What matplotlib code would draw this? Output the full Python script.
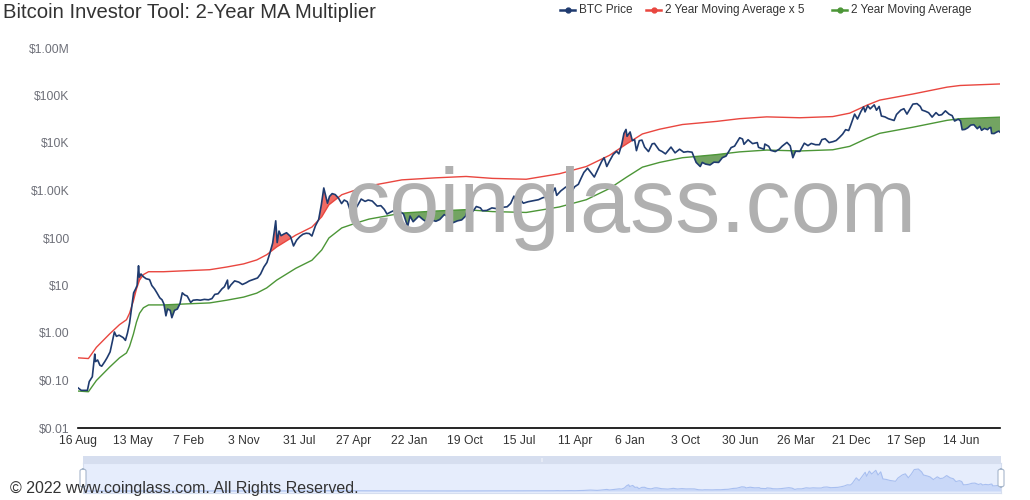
import numpy as np
import pandas as pd
import matplotlib
matplotlib.use('Agg')
from matplotlib import pyplot as plt
from matplotlib.lines import Line2D
from matplotlib.patches import Rectangle, FancyBboxPatch
import matplotlib.dates as mdates

plt.rcParams['font.family'] = ['Liberation Sans', 'DejaVu Sans']

# BTC price
price_dates = [
    '2010-08-16', '2010-09-01', '2010-09-15', '2010-10-01', '2010-10-10', '2010-10-25', '2010-11-06', '2010-11-10',
    '2010-11-20', '2010-12-01', '2010-12-10', '2010-12-25', '2011-01-05', '2011-01-20', '2011-02-01', '2011-02-10',
    '2011-02-20', '2011-03-05', '2011-03-25', '2011-04-05', '2011-04-15', '2011-04-25', '2011-05-05', '2011-05-15',
    '2011-05-25', '2011-06-01', '2011-06-08', '2011-06-12', '2011-06-20', '2011-07-01', '2011-07-15', '2011-08-01',
    '2011-08-12', '2011-08-25', '2011-09-06', '2011-09-20', '2011-10-01', '2011-10-10', '2011-10-20', '2011-10-28',
    '2011-11-10', '2011-11-18', '2011-12-01', '2011-12-15', '2011-12-28', '2012-01-08', '2012-01-20', '2012-02-01',
    '2012-02-18', '2012-03-01', '2012-03-20', '2012-04-05', '2012-04-25', '2012-05-15', '2012-06-01', '2012-06-15',
    '2012-07-01', '2012-07-20', '2012-08-01', '2012-08-16', '2012-08-20', '2012-09-01', '2012-09-20', '2012-10-10',
    '2012-10-28', '2012-11-15', '2012-12-01', '2012-12-20', '2013-01-10', '2013-01-25', '2013-02-10', '2013-02-25',
    '2013-03-10', '2013-03-25', '2013-04-09', '2013-04-16', '2013-04-25', '2013-05-05', '2013-05-20', '2013-06-01',
    '2013-06-20', '2013-07-05', '2013-07-20', '2013-08-05', '2013-08-20', '2013-09-05', '2013-09-20', '2013-10-03',
    '2013-10-20', '2013-11-05', '2013-11-18', '2013-11-30', '2013-12-06', '2013-12-18', '2013-12-28', '2014-01-10',
    '2014-01-25', '2014-02-10', '2014-02-25', '2014-03-10', '2014-03-25', '2014-04-10', '2014-04-25', '2014-05-10',
    '2014-06-01', '2014-06-20', '2014-07-05', '2014-07-25', '2014-08-18', '2014-09-05', '2014-09-22', '2014-10-05',
    '2014-10-25', '2014-11-15', '2014-12-01', '2014-12-25', '2015-01-14', '2015-01-26', '2015-02-10', '2015-03-10',
    '2015-03-30', '2015-04-15', '2015-05-10', '2015-06-01', '2015-06-20', '2015-07-12', '2015-08-01', '2015-08-24',
    '2015-09-15', '2015-10-05', '2015-10-25', '2015-11-04', '2015-11-12', '2015-12-01', '2015-12-16', '2016-01-05',
    '2016-01-15', '2016-02-05', '2016-03-01', '2016-03-25', '2016-04-20', '2016-05-15', '2016-06-01', '2016-06-17',
    '2016-06-25', '2016-07-15', '2016-08-02', '2016-08-25', '2016-09-20', '2016-10-15', '2016-11-05', '2016-11-25',
    '2016-12-15', '2017-01-04', '2017-01-12', '2017-02-01', '2017-02-25', '2017-03-10', '2017-03-25', '2017-04-10',
    '2017-04-28', '2017-05-10', '2017-05-25', '2017-06-12', '2017-06-25', '2017-07-15', '2017-08-01', '2017-08-20',
    '2017-09-01', '2017-09-14', '2017-09-28', '2017-10-15', '2017-11-01', '2017-11-12', '2017-11-26', '2017-12-07',
    '2017-12-17', '2017-12-22', '2018-01-06', '2018-01-17', '2018-01-28', '2018-02-06', '2018-02-20', '2018-03-05',
    '2018-03-18', '2018-04-06', '2018-04-24', '2018-05-05', '2018-05-28', '2018-06-12', '2018-06-28', '2018-07-25',
    '2018-08-14', '2018-09-05', '2018-09-25', '2018-10-15', '2018-11-05', '2018-11-25', '2018-12-15', '2018-12-25',
    '2019-01-10', '2019-02-01', '2019-02-20', '2019-03-15', '2019-04-02', '2019-04-20', '2019-05-15', '2019-06-01',
    '2019-06-26', '2019-07-10', '2019-07-17', '2019-08-06', '2019-08-28', '2019-09-20', '2019-09-26', '2019-10-23',
    '2019-10-27', '2019-11-15', '2019-11-25', '2019-12-17', '2020-01-05', '2020-01-20', '2020-02-12', '2020-02-28',
    '2020-03-12', '2020-03-25', '2020-04-15', '2020-05-07', '2020-05-25', '2020-06-10', '2020-07-01', '2020-07-20',
    '2020-08-01', '2020-08-17', '2020-09-05', '2020-09-25', '2020-10-10', '2020-10-25', '2020-11-10', '2020-11-25',
    '2020-12-10', '2020-12-20', '2021-01-08', '2021-01-22', '2021-02-08', '2021-02-21', '2021-02-28', '2021-03-13',
    '2021-03-25', '2021-04-14', '2021-04-25', '2021-05-08', '2021-05-19', '2021-06-05', '2021-06-22', '2021-07-20',
    '2021-08-01', '2021-08-22', '2021-09-06', '2021-09-21', '2021-10-05', '2021-10-20', '2021-11-09', '2021-11-25',
    '2021-12-04', '2021-12-20', '2022-01-05', '2022-01-22', '2022-02-10', '2022-02-24', '2022-03-10', '2022-03-28',
    '2022-04-15', '2022-04-30', '2022-05-12', '2022-05-30', '2022-06-10', '2022-06-18', '2022-07-01', '2022-07-15',
    '2022-07-30', '2022-08-14', '2022-08-31', '2022-09-12', '2022-09-21', '2022-10-05', '2022-10-20', '2022-10-29',
    '2022-11-05', '2022-11-09', '2022-11-21', '2022-12-05', '2022-12-14', '2022-12-20',
]
price_values = [
    0.07, 0.062, 0.062, 0.062, 0.095, 0.12, 0.36, 0.25,
    0.27, 0.21, 0.20, 0.25, 0.30, 0.40, 0.70, 1.05,
    0.85, 0.90, 0.80, 0.70, 1.00, 1.60, 3.40, 7.0,
    8.5, 10.0, 26.0, 15.0, 17.5, 15.4, 13.9, 13.3,
    10.0, 8.5, 7.0, 5.5, 5.0, 4.1, 2.3, 3.2,
    3.0, 2.1, 3.0, 3.2, 4.2, 7.0, 6.3, 6.0,
    4.4, 4.9, 5.0, 4.9, 5.1, 5.0, 5.3, 6.5,
    6.7, 8.5, 9.4, 13.0, 8.5, 10.2, 12.5, 11.8,
    10.5, 11.4, 12.5, 13.4, 14.4, 17.5, 24.5, 30.5,
    46.0, 78.0, 230.0, 80.0, 140.0, 112.0, 122.0, 129.0,
    108.0, 68.0, 90.0, 107.0, 120.0, 126.0, 124.0, 110.0,
    180.0, 245.0, 500.0, 1130.0, 890.0, 540.0, 750.0, 860.0,
    820.0, 690.0, 530.0, 630.0, 580.0, 360.0, 500.0, 450.0,
    660.0, 590.0, 630.0, 600.0, 470.0, 480.0, 400.0, 320.0,
    355.0, 390.0, 375.0, 320.0, 175.0, 290.0, 220.0, 290.0,
    245.0, 220.0, 240.0, 225.0, 245.0, 310.0, 280.0, 210.0,
    230.0, 240.0, 290.0, 410.0, 310.0, 370.0, 460.0, 430.0,
    375.0, 380.0, 430.0, 415.0, 440.0, 455.0, 535.0, 760.0,
    620.0, 665.0, 540.0, 580.0, 610.0, 640.0, 705.0, 740.0,
    780.0, 1130.0, 790.0, 980.0, 1180.0, 1200.0, 930.0, 1200.0,
    1350.0, 1760.0, 2400.0, 2950.0, 2500.0, 1920.0, 2750.0, 4100.0,
    4900.0, 3200.0, 4200.0, 5700.0, 6700.0, 5900.0, 9300.0, 16000.0,
    19300.0, 13800.0, 17100.0, 11200.0, 11800.0, 6900.0, 11200.0, 11500.0,
    8200.0, 6600.0, 9600.0, 9800.0, 7100.0, 6600.0, 5900.0, 8200.0,
    6200.0, 7400.0, 6400.0, 6600.0, 6400.0, 3900.0, 3200.0, 3900.0,
    3600.0, 3450.0, 3950.0, 3900.0, 4900.0, 5300.0, 8000.0, 8600.0,
    12900.0, 12100.0, 9400.0, 11700.0, 9700.0, 10200.0, 8100.0, 7400.0,
    9500.0, 8500.0, 7000.0, 6600.0, 7400.0, 8600.0, 10300.0, 8700.0,
    4900.0, 6700.0, 6650.0, 9900.0, 8800.0, 9800.0, 9200.0, 9200.0,
    11800.0, 12300.0, 10200.0, 10700.0, 11300.0, 13000.0, 15300.0, 19100.0,
    18300.0, 23800.0, 40500.0, 32000.0, 46200.0, 57500.0, 45200.0, 61200.0,
    52300.0, 63500.0, 49000.0, 58800.0, 37000.0, 35500.0, 32500.0, 29800.0,
    39900.0, 49300.0, 52700.0, 40600.0, 51500.0, 65900.0, 67500.0, 58900.0,
    49200.0, 46700.0, 43400.0, 35100.0, 43600.0, 38300.0, 39400.0, 47500.0,
    40400.0, 37700.0, 29000.0, 31700.0, 29100.0, 19000.0, 19300.0, 20800.0,
    23800.0, 24300.0, 20000.0, 22400.0, 18500.0, 20300.0, 19100.0, 20800.0,
    21300.0, 15900.0, 15800.0, 17100.0, 17800.0, 16900.0,
]

# 2 year moving average
ma_dates = [
    '2010-08-16', '2010-10-06', '2010-11-14', '2011-01-17', '2011-03-07', '2011-04-10', '2011-04-25', '2011-05-14',
    '2011-05-29', '2011-06-13', '2011-07-02', '2011-07-27', '2011-10-08', '2012-01-29', '2012-05-21', '2012-08-12',
    '2012-11-03', '2013-01-06', '2013-02-24', '2013-04-14', '2013-07-16', '2013-10-03', '2013-11-20', '2013-12-25',
    '2014-02-26', '2014-05-06', '2014-07-09', '2014-09-30', '2014-12-17', '2015-06-02', '2015-10-27', '2016-03-03',
    '2016-08-16', '2017-01-25', '2017-06-06', '2017-09-27', '2017-12-19', '2018-03-07', '2018-05-30', '2018-09-19',
    '2019-03-05', '2019-06-25', '2019-11-05', '2020-04-15', '2020-09-23', '2020-12-15', '2021-03-09', '2021-05-11',
    '2021-10-20', '2022-04-05', '2022-06-08', '2022-12-20',
]
ma_values = [
    0.060, 0.058, 0.10, 0.19, 0.30, 0.38, 0.52, 0.95,
    1.7, 2.6, 3.4, 3.9, 3.9, 4.1, 4.3, 4.9,
    5.7, 6.9, 8.9, 13, 23, 34, 56, 100,
    163, 206, 250, 290, 335, 370, 395, 360,
    345, 450, 640, 1100, 1900, 3100, 3900, 4900,
    5700, 6500, 7100, 6800, 7200, 8500, 12500, 16000,
    21500, 30000, 32500, 35000,
]

tick_dates = ['2010-08-16', '2011-05-13', '2012-02-07', '2012-11-03', '2013-07-31', '2014-04-27',
              '2015-01-22', '2015-10-19', '2016-07-15', '2017-04-11', '2018-01-06', '2018-10-03',
              '2019-06-30', '2020-03-26', '2020-12-21', '2021-09-17', '2022-06-14']
tick_labels = ['16 Aug', '13 May', '7 Feb', '3 Nov', '31 Jul', '27 Apr', '22 Jan', '19 Oct', '15 Jul',
               '11 Apr', '6 Jan', '3 Oct', '30 Jun', '26 Mar', '21 Dec', '17 Sep', '14 Jun']
y_ticks = [0.01, 0.1, 1, 10, 100, 1e3, 1e4, 1e5, 1e6]
y_tick_labels = ['$0.01', '$0.10', '$1.00', '$10', '$100', '$1.00K', '$10K', '$100K', '$1.00M']

BLUE = '#1f3b6f'
RED = '#e9463f'
GREEN = '#4c9637'

W, H = 1030, 500
fig = plt.figure(figsize=(W / 100, H / 100), dpi=100)
fig.patch.set_facecolor('white')

px = pd.to_datetime(price_dates)
mx = pd.to_datetime(ma_dates)
price = np.array(price_values)
ma = np.array(ma_values)

# MA at the price dates, only used for the shaded areas
ma_at_price = np.exp(np.interp(mdates.date2num(px), mdates.date2num(mx), np.log(ma)))

ax = fig.add_axes([78 / W, 1 - 428 / H, 922 / W, 380 / H])
ax.set_yscale('log')
ax.set_ylim(0.01, 1e6)
ax.set_xlim(px[0], px[-1])

ax.fill_between(px, price, ma_at_price, where=price < ma_at_price, interpolate=True,
                color='#5a9446', alpha=0.85, lw=0, zorder=2)
ax.fill_between(px, price, ma_at_price * 5, where=price > ma_at_price * 5, interpolate=True,
                color='#ee5b53', alpha=0.9, lw=0, zorder=2)
ax.plot(mx, ma * 5, color=RED, lw=1.0, zorder=3)
ax.plot(mx, ma, color=GREEN, lw=1.0, zorder=3)
ax.plot(px, price, color=BLUE, lw=1.2, zorder=4)

ax.set_yticks(y_ticks)
ax.set_yticklabels(y_tick_labels)
ax.yaxis.set_minor_locator(matplotlib.ticker.NullLocator())
ax.set_xticks(pd.to_datetime(tick_dates))
ax.set_xticklabels(tick_labels)
ax.tick_params(axis='y', length=0, pad=6, labelsize=8.7, labelcolor='#6e7079')
ax.tick_params(axis='x', length=0, pad=5, labelsize=8.7, labelcolor='#333333')
for s in ['top', 'right', 'left']:
    ax.spines[s].set_visible(False)
ax.spines['bottom'].set_color('#000000')
ax.spines['bottom'].set_linewidth(1.2)
ax.set_facecolor('none')

# watermark
fig.text(630 / W, 1 - 232 / H, 'coinglass.com', fontsize=65, color='#b0b0b0',
         ha='center', va='baseline', zorder=0)

# title
fig.text(3 / W, 1 - 12 / H, 'Bitcoin Investor Tool: 2-Year MA Multiplier', fontsize=14.6,
         color='#333333', va='center', ha='left')

# legend
legend_items = [(560, 575, 579, 'BTC Price', BLUE),
                (646, 661, 665, '2 Year Moving Average x 5', RED),
                (832, 847, 851, '2 Year Moving Average', GREEN)]
for x0, x1, tx, lab, col in legend_items:
    yy = 1 - 10 / H
    fig.add_artist(Line2D([x0 / W, x1 / W], [yy, yy], color=col, lw=1.8, transform=fig.transFigure))
    fig.add_artist(Line2D([(x0 + x1) / 2 / W], [yy], color=col, marker='o', ms=3.5,
                          transform=fig.transFigure))
    fig.text(tx / W, yy, lab, fontsize=8.5, color='#333333', va='center', ha='left')

# data zoom slider
sx0, sx1 = 83, 1001
fig.add_artist(Rectangle((sx0 / W, 1 - 463 / H), (sx1 - sx0) / W, 7 / H, transform=fig.transFigure,
                         facecolor='#d6deef', edgecolor='none'))
fig.text((sx0 + sx1) / 2 / W, 1 - 459.5 / H, '|||', fontsize=3, color='white', ha='center', va='center')
sax = fig.add_axes([sx0 / W, 1 - 493 / H, (sx1 - sx0) / W, 30 / H])
sax.set_facecolor('#e6edfc')
sax.plot(px, price, color='#a8bff0', lw=0.8)
sax.fill_between(px, price, 0, color='#c9d8f8', lw=0)
sax.set_xlim(px[0], px[-1])
sax.set_ylim(-6100, 86000)
sax.set_xticks([])
sax.set_yticks([])
for s in sax.spines.values():
    s.set_color('#d6deef')
    s.set_linewidth(0.8)
for hx in (sx0, sx1):
    fig.add_artist(FancyBboxPatch(((hx - 3) / W, 1 - 487 / H), 6 / W, 18 / H,
                                  boxstyle='round,pad=0,rounding_size=0.004',
                                  transform=fig.transFigure, facecolor='white',
                                  edgecolor='#a7b7cc', lw=0.8))

fig.text(10 / W, 1 - 488 / H, '\u00a9 2022 www.coinglass.com. All Rights Reserved.', fontsize=11.5,
         color='#333333', va='center', ha='left')

fig.savefig('out.png', dpi=100)
